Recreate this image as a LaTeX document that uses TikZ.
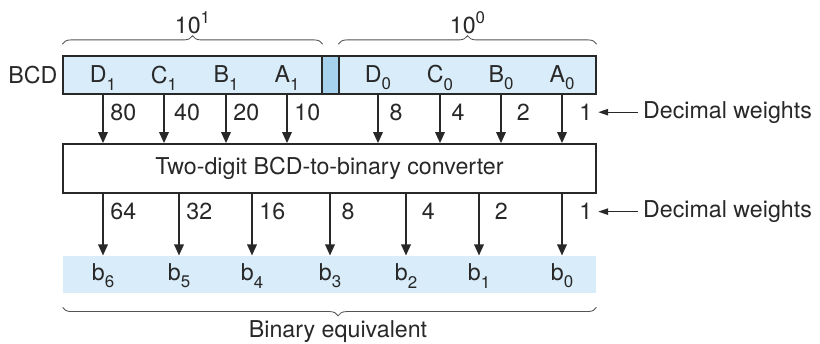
\documentclass[tikz,border=0pt]{standalone}
\usepackage{fontspec}
\setmainfont{TeX Gyre Heros}
\usepackage{tikz}
\usetikzlibrary{arrows.meta,positioning,calc,decorations.pathreplacing}

\definecolor{bcdfill}{RGB}{216,236,249}
\definecolor{sepfill}{RGB}{166,210,238}
\definecolor{ink}{RGB}{40,40,40}
\newcommand{\lowidx}[1]{\raisebox{-0.6ex}{\fontsize{12}{12}\selectfont #1}}
\newcommand{\highidx}[1]{\raisebox{0.8ex}{\fontsize{12}{12}\selectfont #1}}

\begin{document}
\begin{tikzpicture}[x=0.025cm, y=-0.025cm,
  every node/.style={font=\fontsize{16.5}{19}\selectfont, text=ink},
  field/.style={draw=ink, fill=bcdfill, line width=0.9pt, minimum height=0.95cm, inner sep=0pt},
  conv/.style={draw=ink, fill=white, line width=0.9pt, minimum width=13.325cm, minimum height=1.225cm},
  arr/.style={-{Triangle[length=8pt, width=6.5pt]}, line width=1.9pt, draw=ink},
  warr/.style={-{Triangle[length=7pt, width=4.5pt]}, line width=0.9pt, draw=ink},
  wt/.style={right, xshift=1pt},
  brc/.style={decorate, decoration={brace, amplitude=6pt}, line width=0.6pt, draw=ink!80},
  node distance=0pt]
\useasboundingbox (0,0) rectangle (820,343);
\fill[white] (0,0) rectangle (820,343);

% BCD input fields
\node[field, minimum width=6.475cm] (hi) at (192.5,75) {};
\node[field, minimum width=0.425cm, fill=sepfill] (sep) at (330.5,75) {};
\node[field, minimum width=6.425cm] (lo) at (467.5,75) {};
\node[left=0pt of hi] (bcd) {BCD};
\foreach \n/\x/\t in {d1/103/D, c1/164/C, b1/226/B, a1/287/A}
  \node (\n) at (\x,78) {\t\lowidx{1}};
\foreach \n/\x/\t in {d0/378/D, c0/440/C, b0/501/B, a0/562/A}
  \node (\n) at (\x,78) {\t\lowidx{0}};

\draw[brc] ([yshift=8pt]hi.north west) -- ([yshift=8pt]hi.north east)
  node[midway, above=4pt] (p1) {10\highidx{1}};
\draw[brc] ([yshift=8pt]lo.north west) -- ([yshift=8pt]lo.north east)
  node[midway, above=4pt] (p0) {10\highidx{0}};

% converter
\node[conv] (conv) at (329.5,168.5) {Two-digit BCD-to-binary converter};
\foreach \n/\w/\s in {d1/80/0, c1/40/2, b1/20/0, a1/10/0, d0/8/3, c0/4/3, b0/2/6, a0/1/7}
  \draw[arr] (\n |- hi.south) -- (\n |- conv.north)
    node[wt, pos=0.36, xshift=\s pt] (w\n) {\w};
\node[right=1cm of wa0] (dwtop) {Decimal weights};
\draw[warr] (dwtop.west) -- (wa0.east);

% binary outputs
\node[minimum width=13.325cm, minimum height=0.925cm, fill=bcdfill, inner sep=0pt] (bin) at (329.5,274.5) {};
\foreach \n/\x in {6/103, 5/179, 4/252, 3/330, 2/406, 1/479, 0/562}
  \node (b\n) at (\x,276) {b\lowidx{\n}};
\foreach \n/\w/\s in {6/64/0, 5/32/0, 4/16/0, 3/8/3, 2/4/6, 1/2/6, 0/1/7}
  \draw[arr] (b\n |- conv.south) -- (b\n |- bin.north)
    node[wt, pos=0.29, xshift=\s pt] (v\n) {\w};
\node[right=1cm of v0] (dwbot) {Decimal weights};
\draw[warr] (dwbot.west) -- (v0.east);

\draw[brc, decoration={aspect=0.484}] ([yshift=-10pt]bin.south east) -- ([yshift=-10pt]bin.south west)
  node[pos=0.484, below=6pt] (beq) {Binary equivalent};
\end{tikzpicture}
\end{document}
